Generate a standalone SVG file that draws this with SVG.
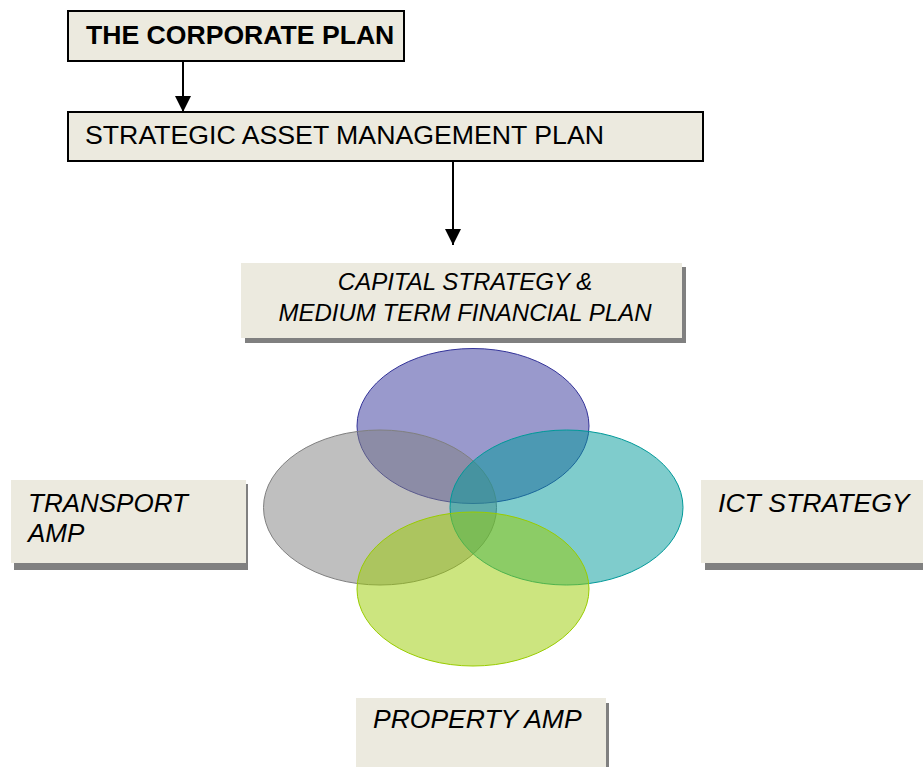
<svg xmlns="http://www.w3.org/2000/svg" width="923" height="767" viewBox="0 0 923 767">
  <style>
    .plan { fill: #ECEADF; stroke: #000; stroke-width: 2; }
    .card { fill: #ECEADF; }
    .shadow { fill: #808080; }
    .t { font-family: "Liberation Sans", Arial, sans-serif; fill: #000; }
    .it { font-style: italic; }
    .link { stroke: #000; stroke-width: 2; fill: none; marker-end: url(#arrow); }
  </style>
  <defs>
    <marker id="arrow" viewBox="0 0 16 16" refX="16" refY="8" markerWidth="16" markerHeight="16" markerUnits="userSpaceOnUse" orient="auto">
      <path d="M0,0 L16,8 L0,16 Z" fill="#000"/>
    </marker>
  </defs>

  <rect width="923" height="767" fill="#fff"/>

  <!-- connectors -->
  <g id="connectors">
    <line class="link" x1="183" y1="61" x2="183" y2="112"/>
    <line class="link" x1="453" y1="161" x2="453" y2="245"/>
  </g>

  <g id="corporate-plan">
    <rect class="plan" x="68" y="11" width="336" height="50"/>
    <text class="t" x="86" y="44" font-size="26.6" font-weight="bold">THE CORPORATE PLAN</text>
  </g>

  <g id="asset-plan">
    <rect class="plan" x="68" y="112" width="635" height="49"/>
    <text class="t" x="85" y="143.5" font-size="26.7">STRATEGIC ASSET MANAGEMENT PLAN</text>
  </g>

  <g id="capital-strategy">
    <rect class="shadow" x="245" y="267" width="441" height="76"/>
    <rect class="card" x="241" y="263" width="441" height="75"/>
    <text class="t it" x="465" y="290" font-size="24" text-anchor="middle">CAPITAL STRATEGY &amp;</text>
    <text class="t it" x="465" y="321" font-size="24" text-anchor="middle">MEDIUM TERM FINANCIAL PLAN</text>
  </g>

  <!-- overlapping ellipses -->
  <g id="venn">
    <ellipse cx="473" cy="426" rx="116" ry="77.5" fill="#333399" fill-opacity="0.5" stroke="#333399" stroke-width="1"/>
    <ellipse cx="380" cy="507.5" rx="116.5" ry="77.5" fill="#808080" fill-opacity="0.5" stroke="#808080" stroke-width="1"/>
    <ellipse cx="566.5" cy="507.5" rx="116.5" ry="77.5" fill="#009999" fill-opacity="0.5" stroke="#009999" stroke-width="1"/>
    <ellipse cx="473" cy="589" rx="116" ry="77" fill="#99CC00" fill-opacity="0.5" stroke="#99CC00" stroke-width="1"/>
  </g>

  <g id="transport-amp">
    <rect class="shadow" x="14" y="484" width="234" height="86"/>
    <rect class="card" x="11" y="480" width="235" height="83"/>
    <text class="t it" x="28" y="511.5" font-size="26">TRANSPORT</text>
    <text class="t it" x="28" y="541.5" font-size="26">AMP</text>
  </g>

  <g id="ict-strategy">
    <rect class="shadow" x="705" y="484" width="230" height="86"/>
    <rect class="card" x="701" y="480" width="230" height="83"/>
    <text class="t it" x="718" y="511.5" font-size="26.6">ICT STRATEGY</text>
  </g>

  <g id="property-amp">
    <rect class="shadow" x="359" y="703" width="250" height="80"/>
    <rect class="card" x="356" y="698" width="250" height="80"/>
    <text class="t it" x="373" y="728" font-size="26.5">PROPERTY AMP</text>
  </g>
</svg>
